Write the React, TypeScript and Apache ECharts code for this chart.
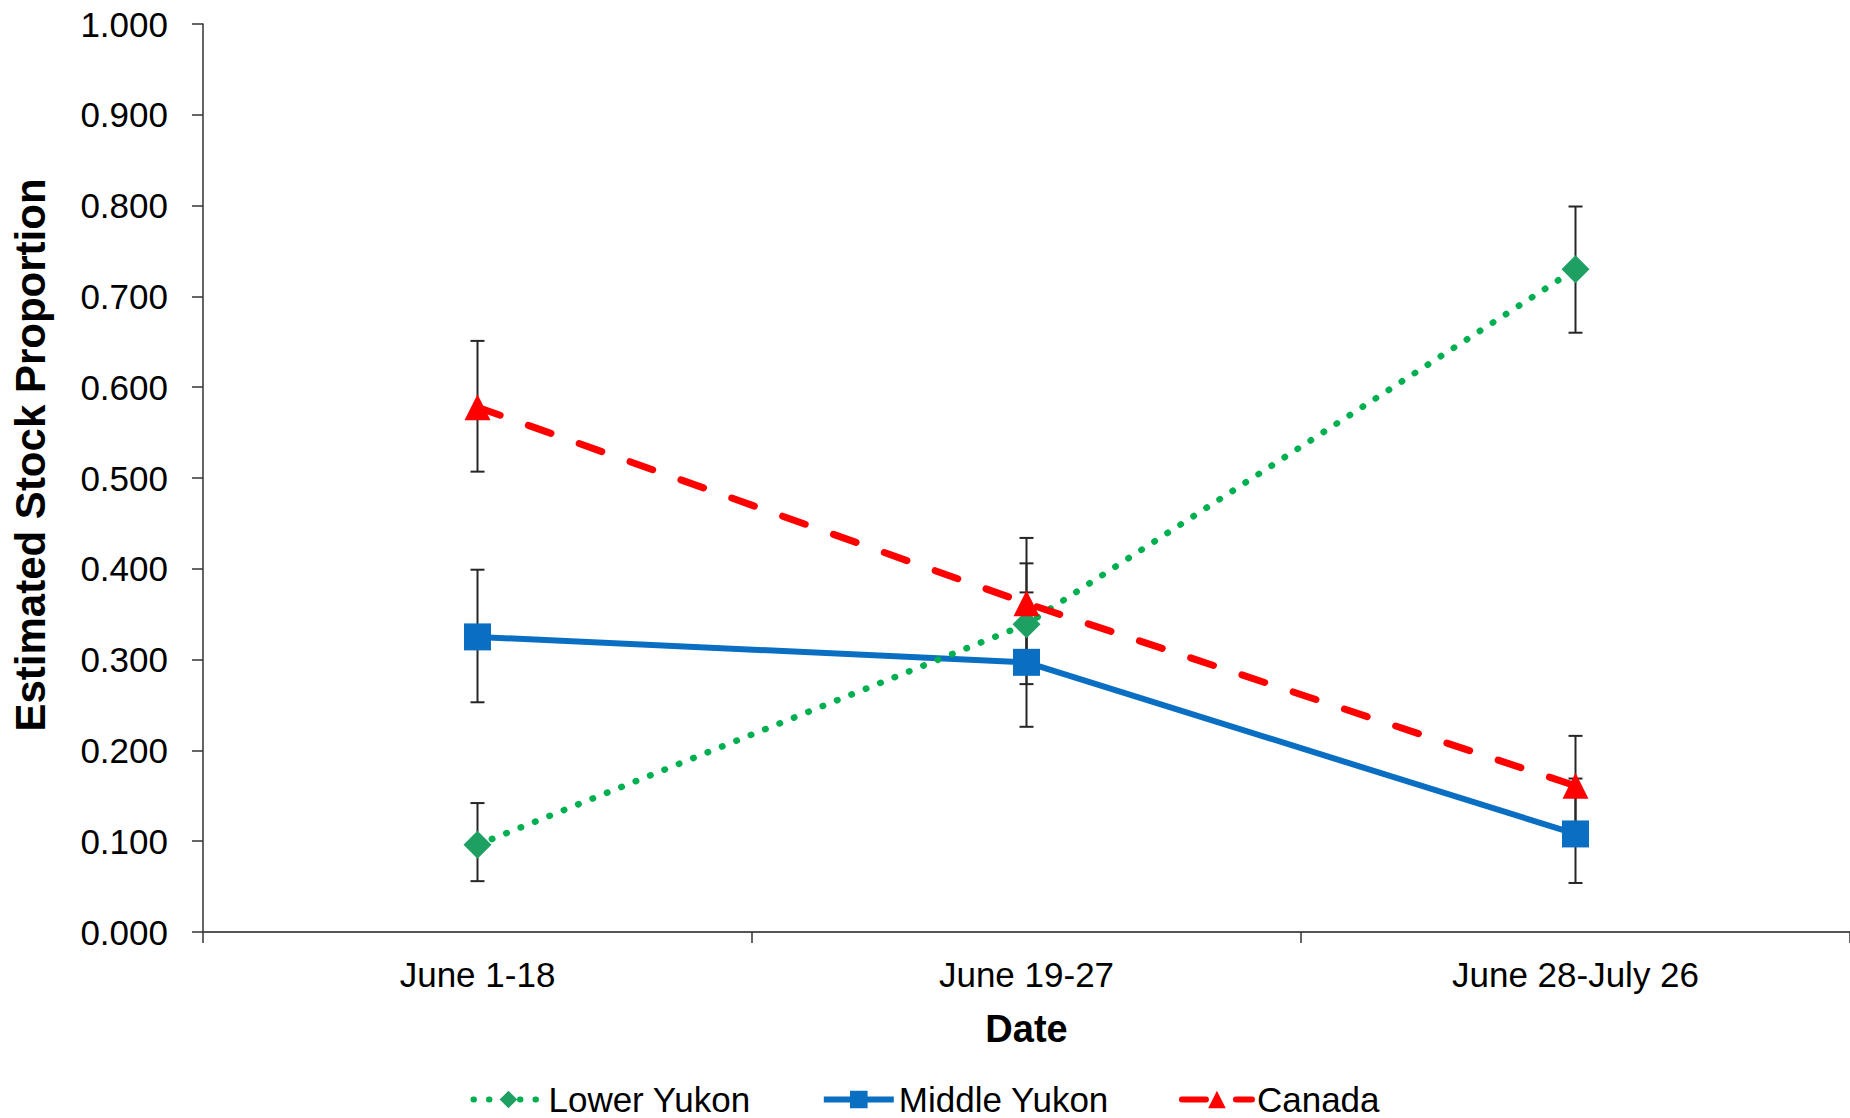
import React, { useEffect, useRef } from "react";
import * as echarts from "echarts";

const categories = ["June 1-18", "June 19-27", "June 28-July 26"];
const yTicks = [0, 0.1, 0.2, 0.3, 0.4, 0.5, 0.6, 0.7, 0.8, 0.9, 1.0];

const lowerYukon = [0.096, 0.339, 0.730];
const lowerYukonLow = [0.056, 0.273, 0.660];
const lowerYukonHigh = [0.142, 0.406, 0.799];

const middleYukon = [0.325, 0.297, 0.108];
const middleYukonLow = [0.253, 0.226, 0.054];
const middleYukonHigh = [0.399, 0.374, 0.169];

const canada = [0.578, 0.362, 0.161];
const canadaLow = [0.507, 0.290, 0.106];
const canadaHigh = [0.651, 0.434, 0.216];

const FONT = "'Liberation Sans', Arial, sans-serif";

function errorData(low: number[], high: number[]) {
  return low.map((l, i) => [i, l, high[i]]);
}

function errorSeries(name: string, low: number[], high: number[]) {
  return {
    type: "custom",
    name: name + " error",
    z: 1,
    silent: true,
    data: errorData(low, high),
    renderItem: (params: any, api: any) => {
      const x = api.value(0);
      const lo = api.coord([x, api.value(1)]);
      const hi = api.coord([x, api.value(2)]);
      const hw = 7;
      const style = { stroke: "#262626", lineWidth: 2 };
      return {
        type: "group",
        children: [
          { type: "line", shape: { x1: lo[0], y1: lo[1], x2: hi[0], y2: hi[1] }, style },
          { type: "line", shape: { x1: hi[0] - hw, y1: hi[1], x2: hi[0] + hw, y2: hi[1] }, style },
          { type: "line", shape: { x1: lo[0] - hw, y1: lo[1], x2: lo[0] + hw, y2: lo[1] }, style },
        ],
      };
    },
  };
}

export default function App() {
  const ref = useRef<HTMLDivElement>(null);
  useEffect(() => {
    document.body.style.margin = "0";
    if (!ref.current) return;
    const chart = echarts.init(ref.current, null, { renderer: "svg" });
    chart.setOption({
      animation: false,
      backgroundColor: "#ffffff",
      textStyle: { fontFamily: FONT },
      grid: { left: 203, right: 0, top: 24, bottom: 186, containLabel: false },
      legend: {
        top: 1082,
        left: "center",
        padding: 0,
        itemWidth: 70,
        itemHeight: 22,
        itemGap: 70,
        lineStyle: { width: 6 },
        textStyle: { fontSize: 35, lineHeight: 35, color: "#000", fontFamily: FONT },
        data: ["Lower Yukon", "Middle Yukon", "Canada"],
      },
      xAxis: {
        type: "category",
        data: categories,
        boundaryGap: true,
        name: "Date",
        nameLocation: "middle",
        nameGap: 78,
        nameTextStyle: { fontSize: 38, fontWeight: "bold", color: "#000", fontFamily: FONT },
        axisLine: { lineStyle: { color: "#555", width: 2 } },
        axisTick: { show: true, length: 11, lineStyle: { color: "#333", width: 1.5 } },
        axisLabel: { fontSize: 35, color: "#000", margin: 25, fontFamily: FONT },
        splitLine: { show: false },
      },
      yAxis: {
        type: "value",
        min: 0,
        max: 1,
        interval: 0.1,
        name: "Estimated Stock Proportion",
        nameLocation: "middle",
        nameRotate: 90,
        nameGap: 152,
        nameTextStyle: {
          fontSize: 42,
          fontWeight: "bold",
          color: "#000",
          fontFamily: FONT,
          padding: [0, 0, 0, 46],
        },
        axisLine: { show: true, lineStyle: { color: "#333", width: 1.5 } },
        axisTick: { show: true, length: 11, lineStyle: { color: "#333", width: 1.5 } },
        axisLabel: {
          fontSize: 35,
          color: "#000",
          margin: 35,
          fontFamily: FONT,
          formatter: (v: number) => {
            const t = yTicks.find((k) => Math.abs(k - v) < 1e-9);
            return (t !== undefined ? t : v).toFixed(3);
          },
        },
        splitLine: { show: false },
      },
      series: [
        errorSeries("Lower Yukon", lowerYukonLow, lowerYukonHigh),
        errorSeries("Middle Yukon", middleYukonLow, middleYukonHigh),
        errorSeries("Canada", canadaLow, canadaHigh),
        {
          type: "line",
          name: "Middle Yukon",
          data: middleYukon,
          z: 3,
          symbol: "rect",
          symbolSize: 27,
          lineStyle: { color: "#0A6FC2", width: 6, type: "solid" },
          itemStyle: { color: "#0A6FC2" },
        },
        {
          type: "line",
          name: "Lower Yukon",
          data: lowerYukon,
          z: 4,
          symbol: "diamond",
          symbolSize: 28,
          lineStyle: { color: "#00B050", width: 6.5, type: [0.5, 15], cap: "round" },
          itemStyle: { color: "#1FA063" },
        },
        {
          type: "line",
          name: "Canada",
          data: canada,
          z: 5,
          symbol: "triangle",
          symbolSize: 26,
          lineStyle: { color: "#FF0000", width: 7, type: [24, 30], cap: "round" },
          itemStyle: { color: "#FF0000" },
        },
      ],
    });
    return () => chart.dispose();
  }, []);
  return <div ref={ref} style={{ width: 1850, height: 1118 }} />;
}
